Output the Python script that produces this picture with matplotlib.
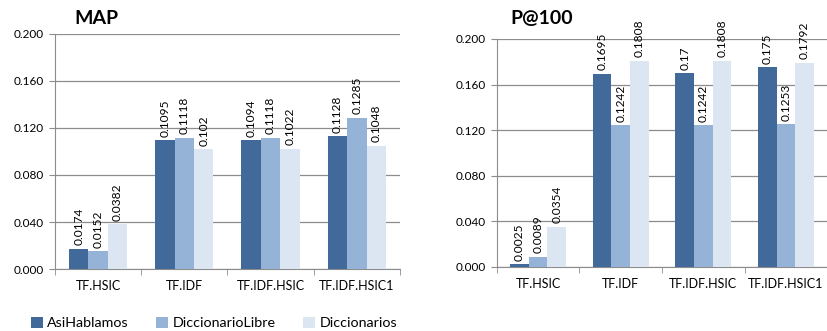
import matplotlib
matplotlib.use("Agg")
import matplotlib.pyplot as plt
import numpy as np
from matplotlib.patches import Patch

plt.rcParams['font.family'] = ['Lato', 'DejaVu Sans']

categories = ["TF.HSIC", "TF.IDF", "TF.IDF.HSIC", "TF.IDF.HSIC1"]
series_names = ["AsiHablamos", "DiccionarioLibre", "Diccionarios"]
map_asi = [0.0174, 0.1095, 0.1094, 0.1128]
map_libre = [0.0152, 0.1118, 0.1118, 0.1285]
map_dicc = [0.0382, 0.102, 0.1022, 0.1048]
map_labels = [["0.0174", "0.1095", "0.1094", "0.1128"],
              ["0.0152", "0.1118", "0.1118", "0.1285"],
              ["0.0382", "0.102", "0.1022", "0.1048"]]
p_asi = [0.0025, 0.1695, 0.17, 0.175]
p_libre = [0.0089, 0.1242, 0.1242, 0.1253]
p_dicc = [0.0354, 0.1808, 0.1808, 0.1792]
p_labels = [["0.0025", "0.1695", "0.17", "0.175"],
            ["0.0089", "0.1242", "0.1242", "0.1253"],
            ["0.0354", "0.1808", "0.1808", "0.1792"]]
yticks = [0.0, 0.04, 0.08, 0.12, 0.16, 0.2]
ytick_labels = ["0.000", "0.040", "0.080", "0.120", "0.160", "0.200"]

colors = ["#416A9B", "#95B3D7", "#DCE6F2"]
grid_c = "#8C8C8C"

fig = plt.figure(figsize=(8.28, 3.31), dpi=100)
ax1 = fig.add_axes([0.0664, 0.1873, 0.4166, 0.7100])
ax2 = fig.add_axes([0.6000, 0.1934, 0.3990, 0.6890])

def draw(ax, series, labels, title, title_x):
    x = np.arange(len(categories))
    w = 0.225
    for i, (vals, lab) in enumerate(zip(series, labels)):
        xs = x + (i - 1) * w
        ax.bar(xs, vals, width=w, color=colors[i], zorder=3)
        for xi, v, t in zip(xs, vals, lab):
            ax.text(xi, v + 0.003, t, rotation=90, ha='center', va='bottom',
                    fontsize=8.6, clip_on=False, color='#000000')
    ax.set_xlim(-0.5, len(categories) - 0.5)
    ax.set_ylim(0, 0.2)
    ax.set_yticks(yticks)
    ax.set_yticklabels(ytick_labels, fontsize=8.5)
    ax.yaxis.grid(True, color=grid_c, linewidth=0.9, zorder=0)
    ax.set_axisbelow(True)
    ax.set_xticks(x)
    ax.set_xticklabels(categories, fontsize=9)
    ax.set_xticks(np.arange(-0.5, len(categories)), minor=True)
    ax.tick_params(axis='x', which='major', length=0, pad=8)
    ax.tick_params(axis='x', which='minor', length=4, color=grid_c, direction='out')
    ax.tick_params(axis='y', length=4, color=grid_c, pad=4)
    for s in ['top', 'right']:
        ax.spines[s].set_visible(False)
    ax.spines['left'].set_color(grid_c)
    ax.spines['bottom'].set_color(grid_c)
    fig.text(title_x, 1 - 18 / 331, title, fontsize=14, fontweight='bold',
             va='center', ha='left')

draw(ax1, [map_asi, map_libre, map_dicc], map_labels, "MAP", 74 / 828)
draw(ax2, [p_asi, p_libre, p_dicc], p_labels, "P@100", 510 / 828)

handles = [Patch(facecolor=c, edgecolor='none') for c in colors]
fig.legend(handles, series_names, loc='center left', bbox_to_anchor=(31 / 828, 1 - 323 / 331),
           ncol=3, frameon=False, fontsize=10.3, handlelength=0.85, handleheight=0.85,
           handletextpad=0.3, columnspacing=1.9, borderaxespad=0, borderpad=0)

fig.savefig("out.png", dpi=100)
